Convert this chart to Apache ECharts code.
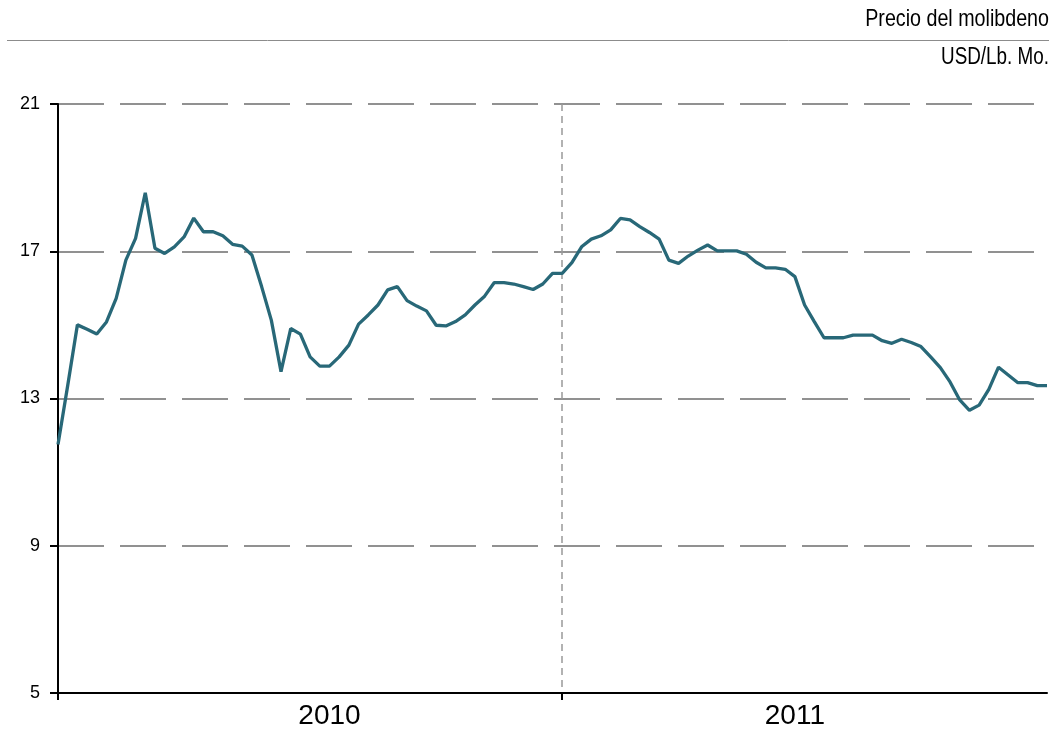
<!DOCTYPE html>
<html>
<head>
<meta charset="utf-8">
<script src="https://cdn.jsdelivr.net/npm/echarts@6/dist/echarts.min.js"></script>
<style>html,body{margin:0;padding:0;background:#fff;}#c{width:1064px;height:733px;}</style>
</head>
<body>
<div id="c"></div>
<script>
// Weekly molybdenum price, USD/Lb. Mo. (2010: 52 weeks, 2011: 51 weeks shown)
const weeks2010 = 52;
const weeks2011 = 51;
const yearLabels = ['2010', '2011'];
const yTicks = [5, 9, 13, 17, 21];
const titleText = 'Precio del molibdeno';
const unitText = 'USD/Lb. Mo.';

const prices2010 = [
  11.75, 13.35, 15.00, 14.88, 14.75, 15.08, 15.72, 16.76, 17.35, 18.59,
  17.08, 16.94, 17.12, 17.39, 17.90, 17.53, 17.53, 17.42, 17.19, 17.14,
  16.90, 16.04, 15.13, 13.73, 14.90, 14.75, 14.13, 13.88, 13.88, 14.13,
  14.45, 15.02, 15.27, 15.54, 15.95, 16.04, 15.66, 15.51, 15.38, 14.99,
  14.97, 15.09, 15.27, 15.54, 15.78, 16.15, 16.15, 16.11, 16.04, 15.96,
  16.11, 16.40
];
const prices2011 = [
  16.40, 16.69, 17.12, 17.33, 17.42, 17.58, 17.89, 17.85, 17.67, 17.51,
  17.33, 16.76, 16.67, 16.87, 17.03, 17.17, 17.01, 17.01, 17.01, 16.92,
  16.70, 16.55, 16.55, 16.51, 16.31, 15.54, 15.09, 14.65, 14.65, 14.65,
  14.72, 14.72, 14.72, 14.57, 14.50, 14.61, 14.52, 14.41, 14.13, 13.84,
  13.45, 12.96, 12.68, 12.82, 13.25, 13.85, 13.64, 13.43, 13.43, 13.35,
  13.35
];

const categories = [];
for (let i = 0; i < weeks2010; i++) categories.push('2010-S' + (i + 1));
for (let i = 0; i < weeks2011; i++) categories.push('2011-S' + (i + 1));
const values = prices2010.concat(prices2011);

const yearStart = [0, weeks2010];
const labelIdx = [28, weeks2010 + 24];

const FONT = 'Liberation Sans, Arial, sans-serif';
const chart = echarts.init(document.getElementById('c'), null, {renderer: 'canvas'});
chart.setOption({
  animation: false,
  backgroundColor: '#ffffff',
  graphic: [
    {type: 'line', shape: {x1: 7, y1: 40.5, x2: 1049, y2: 40.5},
     style: {stroke: '#8c8c8c', lineWidth: 1}},
    {type: 'text', x: 1049, y: 19, scaleX: 0.82,
     style: {text: titleText, font: '24px "Liberation Sans", Arial, sans-serif',
             fill: '#000', textAlign: 'right', textVerticalAlign: 'middle'}},
    {type: 'text', x: 1049, y: 58, scaleX: 0.82,
     style: {text: unitText, font: '23px "Liberation Sans", Arial, sans-serif',
             fill: '#000', textAlign: 'right', textVerticalAlign: 'middle'}}
  ],
  grid: {left: 58, right: 17, top: 104, bottom: 40, containLabel: false},
  xAxis: {
    type: 'category',
    data: categories,
    boundaryGap: false,
    axisLine: {show: true, lineStyle: {color: '#000', width: 2}},
    axisTick: {show: true, length: 7, lineStyle: {color: '#000', width: 2},
      interval: function (i) { return yearStart.indexOf(i) >= 0; }},
    axisLabel: {
      interval: function (i) { return labelIdx.indexOf(i) >= 0; },
      formatter: function (v, i) { return yearLabels[labelIdx.indexOf(i)] || v.slice(0, 4); },
      fontFamily: FONT, fontSize: 28, color: '#000', margin: 9
    },
    splitLine: {show: true,
      interval: function (i) { return i === weeks2010; },
      lineStyle: {color: '#999999', width: 1.5, type: [7, 5]}}
  },
  yAxis: {
    type: 'value',
    min: yTicks[0], max: yTicks[yTicks.length - 1], interval: 4,
    axisLine: {show: true, lineStyle: {color: '#000', width: 2}},
    axisTick: {show: true, length: 8, lineStyle: {color: '#000', width: 2}},
    axisLabel: {fontFamily: FONT, fontSize: 18, color: '#000', margin: 18},
    splitLine: {show: true, lineStyle: {color: '#6e6e6e', width: 1.6, type: [46, 16]}}
  },
  series: [{
    type: 'line',
    data: values,
    showSymbol: false,
    symbol: 'none',
    lineStyle: {color: '#286878', width: 3.3},
    itemStyle: {color: '#286878'}
  }]
});
</script>
</body>
</html>
